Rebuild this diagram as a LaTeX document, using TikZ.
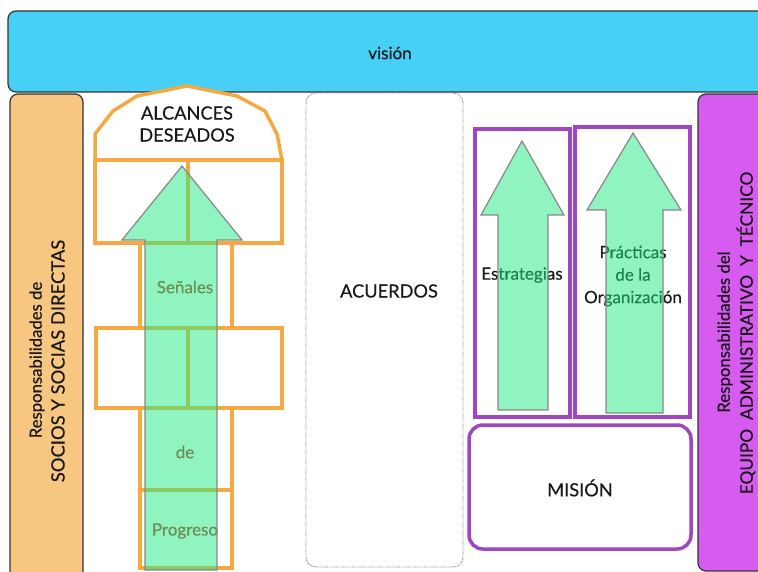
\documentclass[tikz,border=0pt]{standalone}
\usepackage{fontspec}
\setmainfont{Lato}[FakeBold=0.35]
\definecolor{visionc}{RGB}{70,208,245}
\definecolor{orfill}{RGB}{247,198,128}
\definecolor{purfill}{RGB}{214,92,240}
\definecolor{orline}{RGB}{246,168,66}
\definecolor{purline}{RGB}{160,70,192}
\definecolor{arrowc}{RGB}{33,235,129}
\definecolor{redtext}{RGB}{185,50,35}
\definecolor{edgec}{RGB}{50,50,50}
\definecolor{arrowedge}{RGB}{136,136,136}
\definecolor{txt}{RGB}{25,25,25}
\tikzset{
  framebox/.style={draw=edgec, line width=1.2pt, rounded corners=8pt},
  hop/.style={draw=orline, line width=3.5pt, line join=miter},
  purbox/.style={draw=purline, line width=3.5pt},
  greenarrow/.style={fill=arrowc, fill opacity=0.5, draw=arrowedge, line width=1.2pt, line join=miter},
  lbl/.style={inner sep=0pt, text=txt, font=\fontsize{17}{22}\selectfont},
  caps/.style={inner sep=0pt, text=txt, align=center, font=\fontsize{18.2}{22}\selectfont},
  sidetxt/.style={inner sep=0pt, text=txt, rotate=90},
}
\begin{document}
\begin{tikzpicture}[x=1pt,y=-1pt]
\useasboundingbox (0,0) rectangle (758,572);
\clip (0,0) rectangle (758,572);
\fill[white] (0,0) rectangle (758,572);

% vision band
\draw[framebox, fill=visionc] (8,11) rectangle (775,92);
\node[lbl] (vision) at (390,53) {visión};

% side boxes
\draw[framebox, fill=orfill] (10,94) rectangle (83,590);
\node[sidetxt, font=\fontsize{16.7}{21}\selectfont] (socios1) at (37,360) {Responsabilidades de};
\node[sidetxt, font=\fontsize{18.4}{21}\selectfont] (socios2) at (58,361) {SOCIOS Y SOCIAS DIRECTAS};
\draw[framebox, fill=purfill] (698,94) rectangle (775,571);
\node[sidetxt, font=\fontsize{16.8}{21}\selectfont] (equipo1) at (725,332) {Responsabilidades del};
\node[sidetxt, font=\fontsize{17.3}{21}\selectfont] (equipo2) at (746,333) {EQUIPO\ \ ADMINISTRATIVO\ \ Y\ \ TÉCNICO};

% acuerdos
\draw[draw=gray, line width=0.9pt, dash pattern=on 0.9pt off 0.9pt, rounded corners=10pt] (306,93) rectangle (463,567);
\node[caps] (acuerdos) at (389,291) {ACUERDOS};

% hopscotch
\draw[hop, fill=white] (95,160) -- (95,134) -- (113,111) -- (137,96) -- (187,86) -- (237,96) -- (265,111) -- (277,134) -- (282,160) -- cycle;
\node[caps] (alcances) at (187,124) {ALCANCES\\DESEADOS};
\draw[hop] (95,160) rectangle (282,243);
\draw[hop] (188,160) -- (188,243);
\draw[hop] (140,243) rectangle (232,328);
\draw[hop] (96,328) rectangle (282,408);
\draw[hop] (188,328) -- (188,408);
\draw[hop] (140,408) rectangle (232,490);
\draw[hop] (140,490) rectangle (232,568);
\node[lbl, text=redtext] (senales) at (185,287) {Señales};
\node[lbl, text=redtext] (de) at (185,452) {de};
\node[lbl, text=redtext] (progreso) at (185,531) {Progreso};
\draw[greenarrow] (182,166) -- (242,240) -- (217,240) -- (217,570) -- (145,570) -- (145,240) -- (122,240) -- cycle;

% right group
\draw[purbox] (475,129) rectangle (570,417);
\draw[purbox] (575,127) rectangle (690,417);
\node[lbl] (estrategias) at (522,275) {Estrategias};
\node[lbl, align=center, font=\fontsize{17}{22.5}\selectfont] (practicas) at (633,276) {Prácticas\\de la\\Organización};
\draw[greenarrow] (522,141) -- (564,215) -- (548,215) -- (548,410) -- (498,410) -- (498,215) -- (481,215) -- cycle;
\draw[greenarrow] (633,133) -- (681,210) -- (663,210) -- (663,413) -- (606,413) -- (606,210) -- (587,210) -- cycle;

\draw[purbox, rounded corners=14pt] (469,425) rectangle (691,549);
\node[caps] (mision) at (580,488) {MISIÓN};
\end{tikzpicture}
\end{document}
